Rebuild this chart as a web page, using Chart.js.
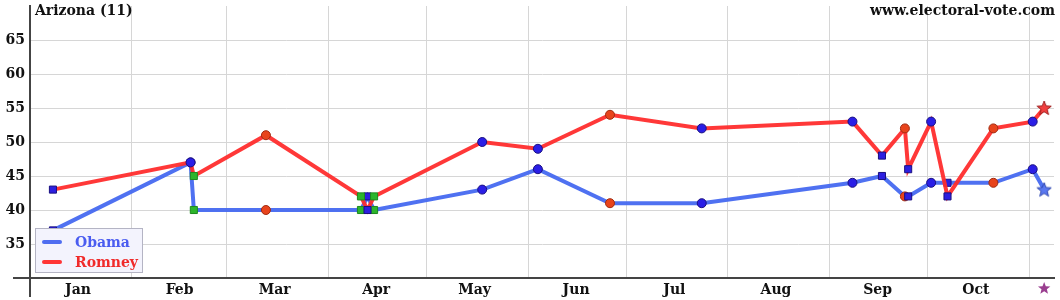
<!DOCTYPE html>
<html>
<head>
<meta charset="utf-8">
<script src="https://cdn.jsdelivr.net/npm/chart.js@4"></script>
<style>
  body { margin: 0; background: #fff; }
</style>
</head>
<body>
<canvas id="myChart" width="1060" height="300"></canvas>
<script>
// poll dates, in days since Jan 1 2012
const pollDays = [7, 49, 50, 72, 101, 103, 105, 138, 155, 177, 205, 251, 260, 267, 268, 275, 280, 294, 306, 309.5];
const obama    = [37, 47, 40, 40, 40, 42, 40, 43, 46, 41, 41, 44, 45, 42, 42, 44, 44, 44, 46, 43];
const romney   = [43, 47, 45, 51, 42, 40, 42, 50, 49, 54, 52, 53, 48, 52, 46, 53, 42, 52, 53, 55];
// which pollster each point came from (F = final prediction)
const pollster = ['B', 'A', 'C', 'D', 'C', 'B', 'C', 'A', 'A', 'D', 'A', 'A', 'B', 'D', 'B', 'A', 'B', 'D', 'A', 'F'];

const monthNames  = ['Jan', 'Feb', 'Mar', 'Apr', 'May', 'Jun', 'Jul', 'Aug', 'Sep', 'Oct', 'Nov'];
const monthStarts = [0, 31, 60, 91, 121, 152, 182, 213, 244, 274, 305];
const yTicks = [35, 40, 45, 50, 55, 60, 65];
const electionDay = 309.5;

const FONT = '"DejaVu Serif", serif';

function starPath(ctx, cx, cy, ro, ri) {
    ctx.beginPath();
    for (let i = 0; i < 10; i++) {
        const r = i % 2 ? ri : ro;
        const a = -Math.PI / 2 + i * Math.PI / 5;
        ctx.lineTo(cx + r * Math.cos(a), cy + r * Math.sin(a));
    }
    ctx.closePath();
}

function makeStar(fill, stroke) {
    const c = document.createElement('canvas');
    c.width = 16; c.height = 16;
    const g = c.getContext('2d');
    starPath(g, 8, 8.5, 7.5, 3.2);
    g.fillStyle = fill;
    g.fill();
    g.strokeStyle = stroke;
    g.lineWidth = 1;
    g.stroke();
    return c;
}

const obamaStar = makeStar('#5a78f0', '#3048b0');
const romneyStar = makeStar('#f04040', '#a02020');

const markerFill = { A: '#2a1ee6', B: '#2d1fe0', C: '#2cb52c', D: '#e8441c' };
const markerEdge = { A: '#1a1080', B: '#1a1080', C: '#1d8a1d', D: '#a02a10' };

function pointStyles(star) {
    return pollster.map(p => p === 'F' ? star : (p === 'A' || p === 'D') ? 'circle' : 'rect');
}

function makeSeries(values) {
    return pollDays.map((d, i) => ({ x: d, y: values[i] }));
}

const decorations = {
    id: 'decorations',
    afterDraw(chart) {
        const { ctx, chartArea: a, scales: { x } } = chart;
        ctx.save();

        // axis stubs past the corner
        ctx.strokeStyle = '#444';
        ctx.lineWidth = 2;
        ctx.beginPath();
        ctx.moveTo(13, a.bottom);
        ctx.lineTo(a.left, a.bottom);
        ctx.moveTo(a.left, a.bottom);
        ctx.lineTo(a.left, 297);
        ctx.stroke();

        // titles
        ctx.font = 'bold 14px ' + FONT;
        ctx.fillStyle = '#111';
        ctx.textBaseline = 'alphabetic';
        ctx.textAlign = 'left';
        ctx.fillText('Arizona (11)', 35, 15);
        ctx.textAlign = 'right';
        ctx.fillText('www.electoral-vote.com', 1055, 15);

        // election day marker
        starPath(ctx, x.getPixelForValue(electionDay), 288.5, 6.5, 2.8);
        ctx.fillStyle = '#9a3f90';
        ctx.fill();

        // legend
        ctx.fillStyle = '#f3f3fd';
        ctx.strokeStyle = '#b4b4c4';
        ctx.lineWidth = 1;
        ctx.fillRect(35.5, 228.5, 107, 44);
        ctx.strokeRect(35.5, 228.5, 107, 44);

        ctx.lineCap = 'round';
        ctx.lineWidth = 4;
        ctx.strokeStyle = '#4f6df0';
        ctx.beginPath(); ctx.moveTo(44, 242); ctx.lineTo(60, 242); ctx.stroke();
        ctx.strokeStyle = '#ff3535';
        ctx.beginPath(); ctx.moveTo(44, 262); ctx.lineTo(60, 262); ctx.stroke();

        ctx.font = 'bold 14px ' + FONT;
        ctx.textAlign = 'left';
        ctx.fillStyle = '#4a5cf0';
        ctx.fillText('Obama', 75, 247);
        ctx.fillStyle = '#f02a2a';
        ctx.fillText('Romney', 75, 267);

        ctx.restore();
    }
};

const chartConfig = {
    type: 'line',
    data: {
        datasets: [
            {
                label: 'Obama',
                data: makeSeries(obama),
                borderColor: 'rgba(70,105,240,0.95)',
                borderWidth: 4,
                tension: 0,
                order: 1,
                pointStyle: pointStyles(obamaStar),
                pointRadius: pollster.map(p => p === 'A' || p === 'D' ? 4.5 : 5),
                pointBackgroundColor: pollster.map(p => markerFill[p] || '#5a78f0'),
                pointBorderColor: pollster.map(p => markerEdge[p] || '#3048b0'),
                pointBorderWidth: 1
            },
            {
                label: 'Romney',
                data: makeSeries(romney),
                borderColor: 'rgba(255,45,45,0.95)',
                borderWidth: 4,
                tension: 0,
                order: 0,
                pointStyle: pointStyles(romneyStar),
                pointRadius: pollster.map(p => p === 'A' || p === 'D' ? 4.5 : 5),
                pointBackgroundColor: pollster.map(p => markerFill[p] || '#f04040'),
                pointBorderColor: pollster.map(p => markerEdge[p] || '#a02020'),
                pointBorderWidth: 1
            }
        ]
    },
    options: {
        responsive: false,
        animation: false,
        layout: { padding: { top: 5, right: 5, left: 0, bottom: 0 } },
        plugins: {
            legend: { display: false },
            tooltip: { enabled: false }
        },
        scales: {
            x: {
                type: 'linear',
                min: 0,
                max: 312.5,
                afterBuildTicks: scale => {
                    scale.ticks = monthStarts.map(v => ({ value: v }));
                },
                afterFit: scale => {
                    scale.height = 22;
                    scale.paddingLeft = 0;
                    scale.paddingRight = 0;
                },
                grid: { color: '#d6d6d6', lineWidth: 1, drawTicks: false },
                border: { display: true, color: '#444', width: 2 },
                ticks: {
                    autoSkip: false,
                    maxRotation: 0,
                    padding: 4,
                    labelOffset: 48,
                    color: '#111',
                    font: { family: FONT, size: 14, weight: 'bold' },
                    callback: (v) => {
                        const i = monthStarts.indexOf(v);
                        return i >= 0 && i < 10 ? monthNames[i] : '';
                    }
                }
            },
            y: {
                min: 30,
                max: 70,
                afterBuildTicks: scale => {
                    scale.ticks = yTicks.map(v => ({ value: v }));
                },
                afterFit: scale => {
                    scale.width = 30;
                    scale.paddingTop = 0;
                    scale.paddingBottom = 0;
                },
                grid: { color: '#d6d6d6', drawTicks: false },
                border: { display: true, color: '#444', width: 2 },
                ticks: {
                    padding: 5,
                    color: '#111',
                    font: { family: FONT, size: 14, weight: 'bold' }
                }
            }
        }
    },
    plugins: [decorations]
};

new Chart(document.getElementById('myChart').getContext('2d'), chartConfig);
</script>
</body>
</html>
